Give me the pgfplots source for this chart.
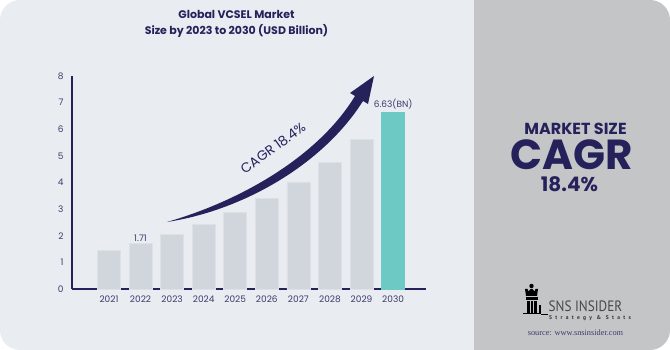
\documentclass[border=0pt]{standalone}
\usepackage{pgfplots}
\pgfplotsset{compat=1.18}
\usepackage{fontspec}
\setmainfont{Poppins}
\newfontfamily\ptsans{PT Sans}
\newfontfamily\srcfont{Liberation Serif}
\definecolor{bgL}{HTML}{E9ECF1}
\definecolor{bgR}{HTML}{C4C5C7}
\definecolor{navy}{HTML}{25225B}
\definecolor{tickc}{HTML}{3C3B6B}
\definecolor{barG}{HTML}{D0D6DC}
\definecolor{barE}{HTML}{DCE1E6}
\definecolor{teal}{HTML}{6CC9C4}
\pgfplotstableread{
year value
2021 1.46
2022 1.71
2023 2.04
2024 2.42
2025 2.86
2026 3.39
2027 4.02
2028 4.76
2029 5.63
}\greybars
\pgfplotstableread{
year value
2030 6.63
}\tealbars
\begin{document}
\begin{tikzpicture}[x=1pt,y=1pt]
\fill[white] (0,0) rectangle (670,350);
\fill[bgR, rounded corners=20pt] (454,0) rectangle (670,350);
\fill[bgL, rounded corners=20pt] (0,0) rectangle (100,350);
\fill[bgL] (50,0) rectangle (474,350);
% title
\node[text=navy, font=\fontsize{11}{15.5}\selectfont\bfseries, align=center] at (236.5,326) {Global VCSEL Market\\Size by 2023 to 2030 (USD Billion)};
\begin{axis}[
  at={(72pt,61pt)}, anchor=south west,
  scale only axis, width=354pt, height=213pt,
  xmin=2019.83, xmax=2031.04, ymin=0, ymax=8,
  axis x line=bottom, axis y line=left,
  axis line style={navy, line width=1.1pt, -},
  ytick={0,1,...,8}, xtick={2021,2022,...,2030},
  major tick length=0pt,
  /pgf/number format/assume math mode=true,
  /pgf/number format/1000 sep={},
  ticklabel style={font=\fontsize{9}{10}\selectfont, text=tickc},
  yticklabel style={xshift=-5pt},
  xticklabel style={yshift=-3pt},
  ybar, bar width=23pt, bar shift=0pt,
  clip=false,
]
\addplot[fill=barG, draw=barE, line width=0.8pt] table[x=year,y=value] {\greybars};
\addplot[fill=teal, draw=teal, line width=0.8pt] table[x=year,y=value] {\tealbars};
\node[above, text=tickc, font=\fontsize{9}{10}\selectfont, inner sep=2pt] at (axis cs:2022,1.71) {1.71};
\node[above, text=tickc, font=\fontsize{9}{10}\selectfont, inner sep=3pt] at (axis cs:2030,6.63) {6.63(BN)};
\end{axis}
% arrow
\begin{scope}[shift={(0,350)}, yscale=-1]
\fill[navy] (167,222) .. controls (240,201) and (318,157) .. (355,96)
  -- (350,93) -- (374,76) -- (368,104) -- (363,101)
  .. controls (324,163) and (245,210) .. (167,222) -- cycle;
\end{scope}
\node[rotate=36, text=navy, font=\fontsize{13.5}{15}\selectfont] at (273,202) {CAGR 18.4\%};
% right panel
\node[text=navy, font=\fontsize{16}{18}\selectfont\bfseries] at (575.5,221.5) {MARKET SIZE};
\node[text=navy, font=\fontsize{42}{44}\selectfont\bfseries] at (571.5,195) {CAGR};
\node[text=navy, font=\fontsize{20}{22}\selectfont\bfseries] at (569.5,166) {18.4\%};
% logo
\begin{scope}[shift={(0,350)}, yscale=-1]
\fill[black] (531.5,286) circle (2.2);
\fill[black] (525,289) -- (527.5,289) -- (528.5,291.5) -- (530.5,289) -- (532.5,289) -- (534.5,291.5) -- (535.5,289) -- (538,289) -- (537,296) -- (526,296) -- cycle;
\fill[black] (525.5,297.5) rectangle (537.5,300);
\fill[black] (527,301) rectangle (529.5,313);
\fill[black] (530.5,301) rectangle (533,313);
\fill[black] (534,301) rectangle (536.5,313);
\fill[black] (523,313) rectangle (541,314.5);
\fill[black] (538.5,305) rectangle (541,313);
\draw[black, line width=0.6pt] (541,314) -- (548,314);
\end{scope}
\node[text=black!72, font=\ptsans\fontsize{15}{17}\selectfont, anchor=west, inner sep=0pt] at (548.5,43.5) {\scalebox{0.88}[1]{SNS INSIDER}};
\node[text=black!80, font=\ptsans\fontsize{5.5}{6}\selectfont\bfseries, anchor=west, inner sep=0pt] at (549,31.5) {\addfontfeature{LetterSpace=60}Strategy \& Stats};
\node[text=tickc, font=\srcfont\fontsize{8.3}{9}\selectfont] at (575.5,17) {source: www.snsinsider.com};
\end{tikzpicture}
\end{document}
